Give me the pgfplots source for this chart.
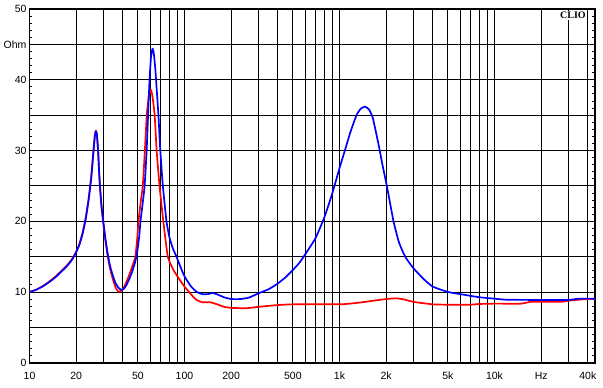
\documentclass[border=0pt]{standalone}
\usepackage{pgfplots}
\pgfplotsset{compat=1.18}
\usepackage{fontspec}
\setmainfont{Liberation Sans}
\newfontfamily\clioserif{Liberation Serif}
\begin{document}
\begin{tikzpicture}
\begin{axis}[
  scale only axis, width=565.5pt, height=353.7pt,
  xmode=log, xmin=10, xmax=44500, ymin=0, ymax=50,
  xtick={10,20,30,40,50,60,70,80,90,100,200,300,400,500,600,700,800,900,1000,2000,3000,4000,5000,6000,7000,8000,9000,10000,20000,30000,40000},
  xticklabels={10,20,,,50,,,,,100,200,,,500,,,,,1k,2k,,,5k,,,,,10k,Hz,,40k},
  ytick={0,5,...,50},
  yticklabels={0,,10,,20,,30,,40,Ohm,50},
  minor y tick num=4,
  xminorticks=false,
  grid=major,
  major grid style={black, line width=0.9pt},
  axis line style={black, line width=1.8pt},
  tick align=inside,
  ytick pos=both,
  yticklabel pos=left,
  xtick style={draw=none},
  ytick style={black, line width=0.8pt},
  major tick length=3pt, minor tick length=3pt,
  ticklabel style={font=\fontsize{10.5}{12}\selectfont, text=black},
  xticklabel style={yshift=-6pt},
  yticklabel style={xshift=0.5pt},
]
\addplot[red, line width=1.7pt, line join=round, smooth, tension=0.3] coordinates {
(10,10.0)(11,10.3)(12,10.75)(13,11.25)(14,11.8)(15,12.35)(16,12.95)(17,13.5)(18,14.1)(19,14.8)(20,15.7)(21,16.8)(22,18.4)(23,20.4)(24,23.0)(25,26.3)(25.8,29.8)(26.4,32.2)(26.8,32.8)(27.2,32.3)(27.7,30.0)(28.2,26.5)(28.6,24.3)(29.2,21.8)(30,19.5)(31,17.0)(32,15.0)(33,13.4)(34.5,11.8)(36,10.6)(37.5,10.05)(39,10.15)(40.5,10.6)(42,11.3)(44,12.4)(46,13.6)(48.2,15.0)(49.5,17.5)(50.5,20.0)(52,22.5)(53.8,25.0)(55.5,30.0)(57.1,35.0)(58.8,37.6)(60.5,38.6)(62,37.8)(64.2,35.0)(66.1,30.0)(69,25.0)(73,20.0)(78,15.0)(84,13.3)(90,12.2)(100,10.75)(107,10.0)(114,9.3)(120,8.85)(130,8.55)(146,8.55)(160,8.3)(180,7.9)(200,7.75)(250,7.7)(300,7.9)(400,8.15)(500,8.25)(1000,8.25)(1100,8.3)(1350,8.5)(1700,8.8)(2000,9.0)(2300,9.1)(2600,8.95)(3000,8.6)(4000,8.25)(5000,8.2)(7000,8.2)(8000,8.3)(10000,8.35)(15000,8.35)(17000,8.6)(27000,8.6)(30000,8.77)(38000,8.97)(44500,9.0)
};
\addplot[blue, line width=1.7pt, line join=round, smooth, tension=0.3] coordinates {
(10,10.0)(11,10.3)(12,10.7)(13,11.2)(14,11.7)(15,12.25)(16,12.85)(17,13.4)(18,14.0)(19,14.7)(20,15.6)(21,16.7)(22,18.2)(23,20.2)(24,22.8)(25,26.0)(25.8,29.5)(26.4,32.0)(26.8,32.7)(27.2,32.3)(27.7,30.0)(28.2,26.5)(28.6,24.5)(29.2,22.0)(30,19.8)(31,17.3)(32,15.3)(33,13.8)(34.5,12.3)(36,11.2)(37.5,10.6)(39,10.3)(40.5,10.4)(42,10.9)(44,11.8)(46,12.9)(48,14.2)(49.5,15.6)(51,17.8)(52,20.0)(53.5,22.2)(55.3,25.0)(57,30.0)(58.2,35.0)(59.5,40.0)(60.8,43.2)(62.2,44.4)(63.5,43.6)(65,41.2)(66,39.0)(67.9,35.0)(69.8,30.0)(72.5,25.0)(76.5,20.0)(80,17.7)(84,16.2)(88.7,15.0)(94,13.6)(100,12.2)(110,10.8)(120,10.0)(130,9.7)(142,9.7)(152,9.85)(163,9.65)(180,9.25)(200,9.0)(230,9.0)(260,9.2)(300,9.8)(350,10.4)(400,11.2)(450,12.1)(500,13.1)(550,14.1)(600,15.3)(700,17.6)(800,20.6)(900,24.0)(1000,27.5)(1083,30.0)(1180,32.7)(1288,35.0)(1370,35.9)(1460,36.2)(1550,35.8)(1640,34.6)(1780,31.0)(1900,27.8)(2020,25.0)(2230,20.0)(2420,17.0)(2650,15.0)(3000,13.35)(3500,11.8)(4000,10.75)(5000,10.0)(6000,9.7)(7000,9.45)(8000,9.25)(10000,9.05)(12000,8.9)(20000,8.87)(30000,8.87)(35000,9.05)(44500,9.05)
};
\node[anchor=north east, fill=white, inner sep=1.2pt, font=\clioserif\bfseries\fontsize{10}{10}\selectfont] at (rel axis cs:0.986,0.995) {CLIO};
\end{axis}
\pgfresetboundingbox
\path ([xshift=-29.5pt,yshift=-25.3pt]current axis.south west) rectangle ([xshift=8pt,yshift=9pt]current axis.north east);
\end{tikzpicture}
\end{document}
